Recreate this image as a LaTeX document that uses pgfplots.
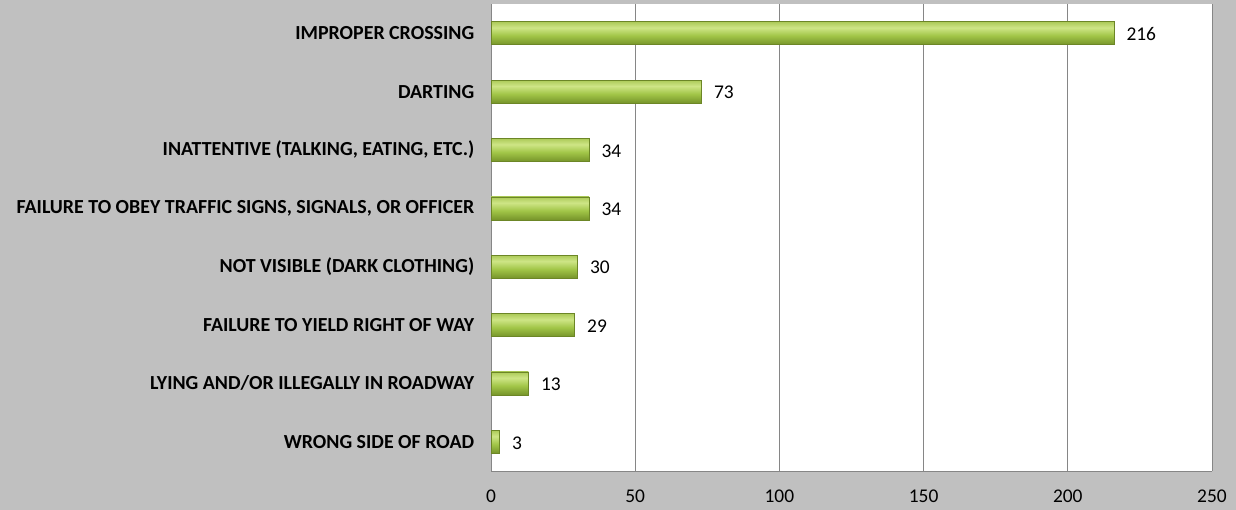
\documentclass[border=0pt]{standalone}
\usepackage{pgfplots}
\pgfplotsset{compat=1.18}
\usepackage{fontspec}
\setmainfont{Carlito}
\definecolor{bg}{RGB}{192,192,192}
\definecolor{gridgray}{RGB}{134,134,134}
\definecolor{bartop}{RGB}{172,202,88}
\definecolor{barhi}{RGB}{206,229,134}
\definecolor{barmain}{RGB}{162,198,72}
\definecolor{barbot}{RGB}{118,148,42}
\definecolor{baredge}{RGB}{108,134,38}
\pgfdeclareverticalshading{barshade}{100bp}{color(0bp)=(barbot); color(25bp)=(barbot); color(45bp)=(barmain); color(62bp)=(barhi); color(75bp)=(bartop); color(100bp)=(bartop)}
\pgfplotsset{mybar/.style={draw=baredge, line width=0.5pt, shading=barshade, shade}}
\begin{document}
\begin{tikzpicture}
\fill[bg] (0,0) rectangle (1236bp,510bp);
\begin{axis}[
  at={(491bp,39bp)}, anchor=south west,
  scale only axis, width=721bp, height=467bp,
  xmin=0, xmax=250, ymin=-0.5, ymax=7.5, y dir=reverse,
  xbar, bar width=23bp, bar shift=0pt,
  xtick={0,50,100,150,200,250},
  ytick={0,1,2,3,4,5,6,7},
  yticklabels={IMPROPER CROSSING, DARTING, {INATTENTIVE (TALKING, EATING, ETC.)}, {FAILURE TO OBEY TRAFFIC SIGNS, SIGNALS, OR OFFICER}, NOT VISIBLE (DARK CLOTHING), FAILURE TO YIELD RIGHT OF WAY, LYING AND/OR ILLEGALLY IN ROADWAY, WRONG SIDE OF ROAD},
  yticklabel style={font=\bfseries\fontsize{20}{23}\selectfont, xshift=-9bp},
  xticklabel style={font=\fontsize{19.5}{22}\selectfont, yshift=-15bp},
  xmajorgrids, grid style={draw=gridgray, line width=0.8pt},
  axis x line*=bottom, axis y line*=left,
  axis line style={draw=gridgray, line width=0.8pt, -},
  tick style={draw=none},
  axis background/.style={fill=white},
  /pgf/number format/assume math mode=true,
  nodes near coords,
  nodes near coords style={font=\fontsize{19.5}{22}\selectfont, anchor=west, xshift=9bp, yshift=-1bp, text=black},
  clip=false,
]
\addplot[mybar] coordinates {(216,0)};
\addplot[mybar] coordinates {(73,1)};
\addplot[mybar] coordinates {(34,2)};
\addplot[mybar] coordinates {(34,3)};
\addplot[mybar] coordinates {(30,4)};
\addplot[mybar] coordinates {(29,5)};
\addplot[mybar] coordinates {(13,6)};
\addplot[mybar] coordinates {(3,7)};
\end{axis}
\end{tikzpicture}
\end{document}
